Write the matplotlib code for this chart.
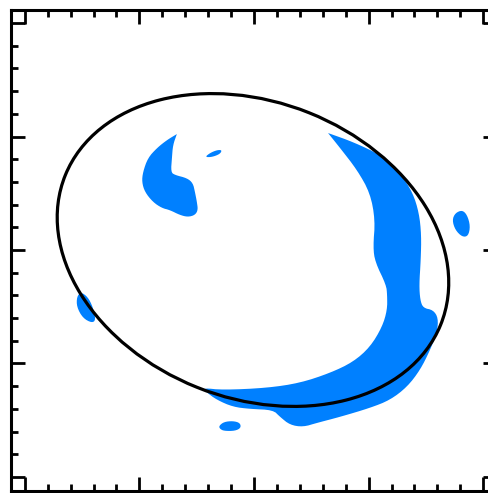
import numpy as np
import matplotlib
matplotlib.use("Agg")
import matplotlib.pyplot as plt
from matplotlib.patches import Ellipse, Polygon
from matplotlib.ticker import MultipleLocator

# Emission regions above the contour threshold (offsets in arcsec)
crescent_x = [0.646, 0.646, 0.870, 1.120, 1.280, 1.385, 1.440, 1.460, 1.455, 1.441, 1.450,
              1.476, 1.563, 1.607, 1.598, 1.537, 1.450, 1.336, 1.188, 1.013, 0.751,
              0.550, 0.428, 0.314, 0.227, 0.166, -0.035, -0.183, -0.323, -0.419, -0.445,
              -0.271, 0.114, 0.402, 0.664, 0.865, 1.013, 1.118, 1.162, 1.162, 1.153,
              1.057, 1.039, 1.057, 1.013, 0.900, 0.751]
crescent_y = [1.031, 1.031, 0.950, 0.830, 0.670, 0.505, 0.326, 0.132, -0.088, -0.308, -0.441,
              -0.511, -0.529, -0.599, -0.722, -0.881, -1.057, -1.207, -1.322, -1.392, -1.471,
              -1.524, -1.560, -1.542, -1.471, -1.410, -1.401, -1.383, -1.322, -1.251, -1.216,
              -1.234, -1.216, -1.172, -1.084, -0.987, -0.855, -0.678, -0.529, -0.397, -0.308,
              -0.106, 0.026, 0.264, 0.502, 0.705, 0.899]

hook_x = [-0.673, -0.673, -0.707, -0.716, -0.725, -0.690, -0.585, -0.533, -0.515, -0.498, -0.489,
          -0.515, -0.576, -0.646, -0.734, -0.804, -0.882, -0.952, -0.978, -0.969, -0.926,
          -0.847, -0.760]
hook_y = [1.022, 1.022, 0.925, 0.811, 0.687, 0.661, 0.634, 0.590, 0.511, 0.423, 0.352,
          0.308, 0.291, 0.308, 0.352, 0.370, 0.423, 0.511, 0.599, 0.687, 0.811,
          0.899, 0.969]

knot_n_x = [-0.428, -0.384, -0.323, -0.279, -0.297, -0.367]
knot_n_y = [0.819, 0.855, 0.881, 0.881, 0.846, 0.819]

knot_e_x = [1.756, 1.817, 1.860, 1.887, 1.869, 1.817, 1.756, 1.729]
knot_e_y = [0.326, 0.352, 0.308, 0.211, 0.123, 0.115, 0.176, 0.264]

knot_w_x = [-1.511, -1.450, -1.406, -1.380, -1.415, -1.494, -1.546, -1.546]
knot_w_y = [-0.370, -0.414, -0.502, -0.617, -0.643, -0.599, -0.502, -0.414]

knot_s_x = [-0.306, -0.262, -0.183, -0.122, -0.114, -0.166, -0.262, -0.297]
knot_s_y = [-1.551, -1.515, -1.507, -1.524, -1.568, -1.595, -1.595, -1.577]

regions = [(crescent_x, crescent_y), (hook_x, hook_y), (knot_n_x, knot_n_y),
           (knot_e_x, knot_e_y), (knot_w_x, knot_w_y), (knot_s_x, knot_s_y)]

# Fitted ring: centre, full axes and position angle
ring_center = (-0.009, 0.0)
ring_width = 3.53
ring_height = 2.61
ring_angle = -22.0

major_ticks = [-2, -1, 0, 1, 2]
axis_limit = 2.12


def chaikin(x, y, n_iter=2):
    """Corner-cutting smoothing of a closed outline."""
    pts = np.column_stack([x, y]).astype(float)
    for _ in range(n_iter):
        nxt = np.roll(pts, -1, axis=0)
        q = 0.75 * pts + 0.25 * nxt
        r = 0.25 * pts + 0.75 * nxt
        pts = np.empty((2 * len(q), 2))
        pts[0::2] = q
        pts[1::2] = r
    return pts


fig = plt.figure(figsize=(4.89, 4.93), dpi=100)
ax = fig.add_axes([11 / 489, 2.5 / 493, 486 / 489, 481 / 493])

for rx, ry in regions:
    ax.add_patch(Polygon(chaikin(rx, ry), closed=True, facecolor="#0080ff",
                         edgecolor="none", zorder=2))

ax.add_patch(Ellipse(ring_center, ring_width, ring_height, angle=ring_angle,
                     facecolor="none", edgecolor="black", linewidth=2.3, zorder=3))

ax.set_xlim(-axis_limit, axis_limit)
ax.set_ylim(-axis_limit, axis_limit)
ax.set_xticks(major_ticks)
ax.set_yticks(major_ticks)
ax.xaxis.set_minor_locator(MultipleLocator(0.2))
ax.yaxis.set_minor_locator(MultipleLocator(0.2))
ax.tick_params(which="both", direction="in", top=True, right=True,
               labelbottom=False, labelleft=False, width=2.0, color="black")
ax.tick_params(which="major", length=10)
ax.tick_params(which="minor", length=5)
for sp in ax.spines.values():
    sp.set_linewidth(2.2)

fig.savefig("out.png", dpi=100)
